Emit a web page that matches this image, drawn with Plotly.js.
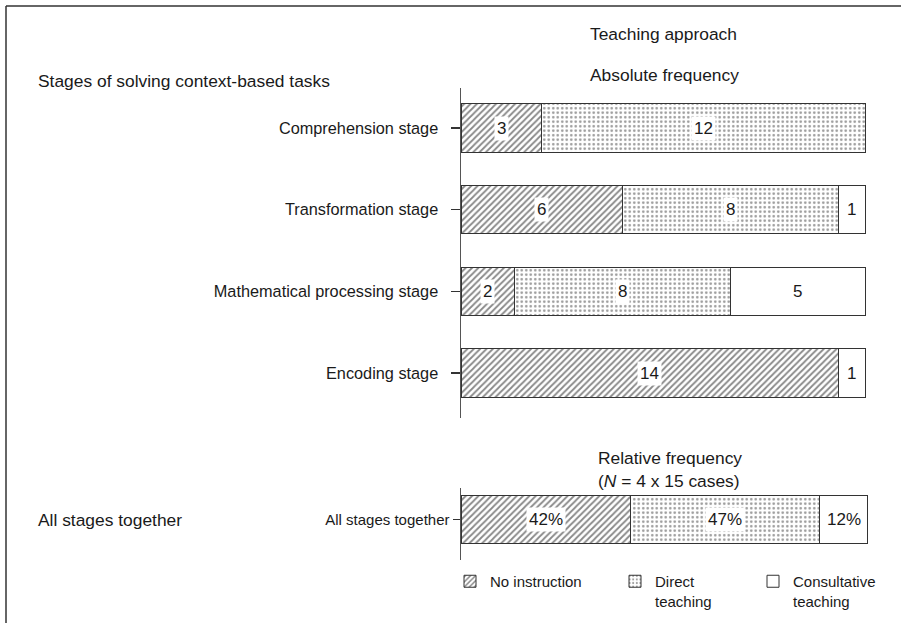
<!DOCTYPE html>
<html>
<head>
<meta charset="utf-8">
<script src="https://cdn.plot.ly/plotly-3.0.1.min.js"></script>
<style>html,body{margin:0;padding:0;background:#fff}#chart{width:901px;height:623px}</style>
</head>
<body>
<div id="chart"></div>
<script>
// ---- data ----
const stages = ["Comprehension stage", "Transformation stage", "Mathematical processing stage", "Encoding stage"];
const noInstruction = [3, 6, 2, 14];
const directTeaching = [12, 8, 8, 0];
const consultativeTeaching = [0, 1, 5, 1];

const allCategory = ["All stages together"];
const relNoInstruction = [41.7];
const relDirect = [46.7];
const relConsultative = [11.7];
const relLabels = [["42%"], ["47%"], ["12%"]];

const seriesNames = ["No instruction", "Direct<br>teaching", "Consultative<br>teaching"];

// ---- styling ----
const FONT = "Liberation Sans, Arial, sans-serif";
const TXT = "#1a1a1a";
const W = 901, H = 623;
const px = x => x / W;
const py = y => 1 - y / H;

const patterns = [
  {shape: "/", size: 4.5, solidity: 0.4, fgcolor: "#111", bgcolor: "#ffffff", fillmode: "overlay"},
  {shape: ".", size: 4.5, solidity: 0.26, fgcolor: "#333", bgcolor: "#ffffff", fillmode: "overlay"},
  {shape: "", size: 4, solidity: 0.2, fgcolor: "#fff", bgcolor: "#ffffff"}
];
const barLine = {color: "#333", width: 1};

const topSeries = [noInstruction, directTeaching, consultativeTeaching];
const botSeries = [relNoInstruction, relDirect, relConsultative];
const legendIds = ["legend", "legend2", "legend3"];

const traces = [];
topSeries.forEach((vals, i) => {
  traces.push({
    type: "bar", orientation: "h", x: vals, y: stages, xaxis: "x", yaxis: "y",
    name: seriesNames[i], showlegend: false, width: 0.59, cliponaxis: false,
    marker: {color: "#ffffff", pattern: patterns[i], line: barLine},
    hoverinfo: "skip"
  });
});
botSeries.forEach((vals, i) => {
  traces.push({
    type: "bar", orientation: "h", x: vals, y: allCategory, xaxis: "x2", yaxis: "y2",
    name: seriesNames[i], showlegend: true, legend: legendIds[i], width: 0.59, cliponaxis: false,
    marker: {color: "#ffffff", pattern: patterns[i], line: barLine},
    hoverinfo: "skip"
  });
});

// value labels (white boxes) positioned from data
const annotations = [];
stages.forEach((s, r) => {
  let cum = 0;
  topSeries.forEach(vals => {
    const v = vals[r];
    if (v > 0) {
      annotations.push({
        xref: "x", yref: "y", x: cum + v / 2, y: s, text: String(v), showarrow: false,
        bgcolor: "#ffffff", borderpad: 2, font: {family: FONT, size: 17, color: TXT}
      });
    }
    cum += v;
  });
});
{
  let cum = 0;
  botSeries.forEach((vals, i) => {
    const v = vals[0];
    annotations.push({
      xref: "x2", yref: "y2", x: cum + v / 2, y: allCategory[0], text: relLabels[i][0], showarrow: false,
      bgcolor: "#ffffff", borderpad: 2, font: {family: FONT, size: 17, color: TXT}
    });
    cum += v;
  });
}

// texts
const txt = (text, x, y, anchor, size) => ({
  xref: "paper", yref: "paper", x: px(x), y: py(y), xanchor: anchor, yanchor: "middle",
  text: text, showarrow: false, font: {family: FONT, size: size, color: TXT}
});
annotations.push(txt("Teaching approach", 663, 34, "center", 17.4));
annotations.push(txt("Absolute frequency", 664, 75, "center", 17.4));
annotations.push(txt("Stages of solving context-based tasks", 36, 81, "left", 17.4));
annotations.push(txt("Relative frequency", 670, 458, "center", 17.4));
annotations.push(txt("(<i>N</i> = 4 x 15 cases)", 669, 481, "center", 17.4));
annotations.push(txt("All stages together", 36, 520, "left", 17.4));

const legendBase = (x) => ({
  x: px(x), xanchor: "left", y: py(565), yanchor: "top",
  font: {family: FONT, size: 15, color: TXT}, bgcolor: "rgba(0,0,0,0)",
  borderwidth: 0, valign: "top", orientation: "v"
});

const layout = {
  width: W, height: H,
  margin: {l: 0, r: 0, t: 0, b: 0},
  paper_bgcolor: "#ffffff", plot_bgcolor: "rgba(0,0,0,0)",
  barmode: "stack", hovermode: false, showlegend: true,
  font: {family: FONT, color: TXT},
  xaxis: {domain: [px(461), px(875)], range: [0, 15.37], anchor: "y",
          showgrid: false, zeroline: false, showline: false, showticklabels: false, ticks: ""},
  yaxis: {domain: [py(418), py(88)], range: [3.55, -0.49], autorange: false, anchor: "x",
          type: "category", showgrid: false, zeroline: false,
          showline: true, linecolor: "#555", linewidth: 1.5,
          ticks: "outside", ticklen: 9, tickwidth: 1.5, tickcolor: "#333",
          ticklabelstandoff: 9, tickfont: {family: FONT, size: 16.3, color: TXT}},
  xaxis2: {domain: [px(461), px(877)], range: [0, 102.46], anchor: "y2",
           showgrid: false, zeroline: false, showline: false, showticklabels: false, ticks: ""},
  yaxis2: {domain: [py(560), py(488)], range: [0.508, -0.395], autorange: false, anchor: "x2",
           type: "category", showgrid: false, zeroline: false,
           showline: true, linecolor: "#555", linewidth: 1.5,
           ticks: "outside", ticklen: 7, tickwidth: 1.5, tickcolor: "#333",
           ticklabelstandoff: 0, tickfont: {family: FONT, size: 15, color: TXT}},
  legend: legendBase(450),
  legend2: legendBase(615),
  legend3: legendBase(753),
  annotations: annotations,
  shapes: [
    {type: "line", xref: "paper", yref: "paper", x0: px(6), x1: 1.01, y0: py(6), y1: py(6), line: {color: "#333", width: 1.5}},
    {type: "line", xref: "paper", yref: "paper", x0: px(6), x1: px(6), y0: py(6), y1: -0.01, line: {color: "#333", width: 1.5}}
  ]
};

Plotly.newPlot("chart", traces, layout, {displayModeBar: false, staticPlot: true});
</script>
</body>
</html>
